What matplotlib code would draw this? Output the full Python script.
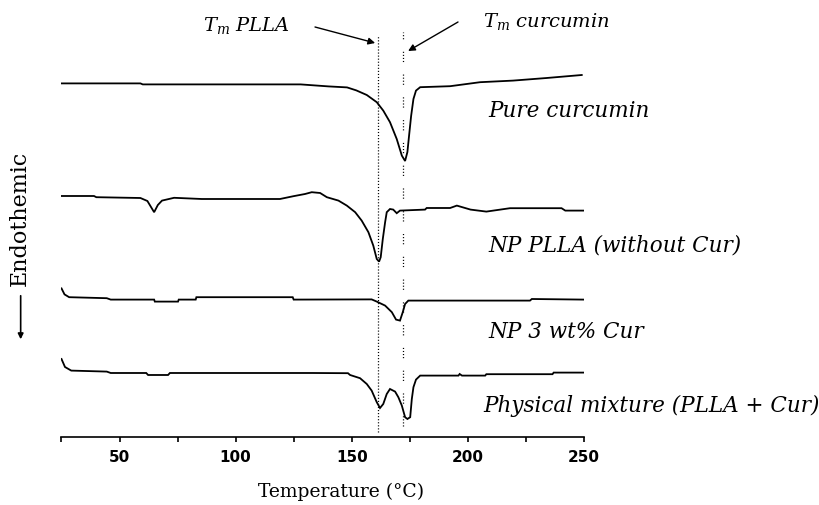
import numpy as np
import matplotlib
matplotlib.use("Agg")
import matplotlib.pyplot as plt

# 数据（温度 °C，热流 a.u.，从图上读取）
T_cur = [25, 59, 60, 128, 140, 148, 152, 156.5, 160.8, 163.6, 166.5, 169.4, 171.6, 173.0,
         174.0, 174.7, 175.6, 176.6, 177.7, 179.5, 192.4, 205.3, 219.5, 234, 249.1]
Q_cur = [17.68, 17.68, 17.63, 17.63, 17.53, 17.48, 17.33, 17.10, 16.74, 16.32, 15.74, 14.90, 14.07, 13.80,
         14.25, 15.05, 16.05, 16.90, 17.32, 17.49, 17.54, 17.74, 17.82, 17.95, 18.10]

T_np = [25, 39, 40, 59, 62, 64.9, 66.5, 68.3, 73.5, 85.4, 105.8, 119.1, 124.9, 129.9, 132.8, 136.4,
        139.3, 144.3, 147.9, 151.5, 154.3, 157.2, 159.3, 160.8, 161.8, 162.5, 163.4, 164.4, 165.1,
        166.5, 167.9, 169.4, 170.8, 181.6, 182.3, 192.4, 195.3, 201.2, 208, 218.2, 240.4, 242, 249.8]
Q_np = [12.05, 12.05, 11.99, 11.95, 11.80, 11.24, 11.60, 11.82, 11.96, 11.90, 11.90, 11.90, 12.04, 12.15,
        12.24, 12.20, 11.99, 11.82, 11.57, 11.24, 10.82, 10.24, 9.57, 8.90, 8.77, 8.99, 9.90, 10.74, 11.24,
        11.40, 11.37, 11.19, 11.32, 11.37, 11.45, 11.45, 11.57, 11.37, 11.27, 11.44, 11.44, 11.32, 11.32]

T_np3 = [25, 26.3, 28.3, 44.5, 46.2, 64.9, 65.2, 75.2, 75.5, 82.8, 83.1, 124.6, 125, 158.6, 160.8,
         164.4, 167.3, 169.1, 170.8, 172, 173, 174.4, 226.8, 227.6, 249.8]
Q_np3 = [7.43, 7.13, 6.99, 6.94, 6.87, 6.87, 6.77, 6.77, 6.87, 6.87, 6.99, 6.99, 6.87, 6.88, 6.77,
         6.57, 6.24, 5.87, 5.82, 6.24, 6.65, 6.82, 6.82, 6.90, 6.87]

T_mix = [25, 26.5, 29.2, 44.5, 46.2, 61.5, 62.3, 70.9, 71.7, 133.1, 148.4, 149.3, 153.6, 156.5, 158.6,
         160.8, 162.2, 163.6, 165.1, 166.5, 168.7, 170.1, 171.6, 173, 174, 175.2, 175.9, 176.6, 177.7,
         179.5, 196, 196.5, 197.5, 207.5, 208, 236.5, 237, 249.8]
Q_mix = [3.90, 3.50, 3.32, 3.27, 3.20, 3.20, 3.10, 3.10, 3.20, 3.20, 3.19, 3.10, 2.94, 2.65, 2.32,
         1.74, 1.45, 1.65, 2.15, 2.40, 2.27, 1.99, 1.57, 0.99, 0.90, 0.99, 1.90, 2.49, 2.87,
         3.07, 3.07, 3.15, 3.07, 3.07, 3.14, 3.14, 3.22, 3.22]

names = ["Pure curcumin", "NP PLLA (without Cur)", "NP 3 wt% Cur", "Physical mixture (PLLA + Cur)"]
Tm_plla = 161.5
Tm_cur = 172.3

plt.rcParams['mathtext.fontset'] = 'dejavuserif'
plt.rcParams['lines.scale_dashes'] = False

fig = plt.figure(figsize=(8.2, 5.06), dpi=100)
ax = fig.add_axes([0.075, 0.1344, 0.637, 0.8656])

for T, Q in [(T_cur, Q_cur), (T_np, Q_np), (T_np3, Q_np3), (T_mix, Q_mix)]:
    ax.plot(T, Q, color="black", lw=1.3, solid_joinstyle="miter")

# 熔点虚线
ax.plot([Tm_plla, Tm_plla], [0.25, 20.05], color="black", lw=0.9, ls=(0, (0.8, 1.4)))
ax.plot([Tm_cur, Tm_cur], [0.57, 20.25], color="black", lw=0.9,
        ls=(0, (0.8, 1.4, 0.8, 1.4, 0.8, 1.4, 0.8, 9)))

# 箭头和标注
arrow = dict(arrowstyle="-|>", color="black", lw=1.0, mutation_scale=10, shrinkA=0, shrinkB=0)
ax.annotate("", xy=(160.1, 19.7), xytext=(134.2, 20.5), arrowprops=arrow)
ax.annotate("", xy=(174.3, 19.3), xytext=(195.8, 20.75), arrowprops=arrow)
ax.text(86, 20.35, r"$T_m$ PLLA", fontsize=14, family="DejaVu Serif", style="italic", va="baseline")
ax.text(206.6, 20.55, r"$T_m$ curcumin", fontsize=14, family="DejaVu Serif", style="italic", va="baseline")

label_x = [208.8, 208.8, 208.8, 206.6]
label_y = [16.05, 9.3, 5.0, 1.3]
for name, lx, ly in zip(names, label_x, label_y):
    ax.text(lx, ly, name, fontsize=15.5, family="DejaVu Serif", style="italic", va="baseline", clip_on=False)

ax.set_xlim(25, 250)
ax.set_ylim(0, 21.9)
ax.set_xticks([50, 100, 150, 200, 250])
ax.set_xticks(np.arange(25, 251, 25), minor=True)
ax.tick_params(axis="x", which="both", direction="out", length=3.6, width=1.2, pad=5)
ax.tick_params(axis="x", labelsize=11)
for lab in ax.get_xticklabels():
    lab.set_fontweight("bold")
ax.set_yticks([])
for s in ["left", "top", "right"]:
    ax.spines[s].set_visible(False)
ax.spines["bottom"].set_linewidth(1.2)
ax.patch.set_alpha(0)

fig.text(341 / 820, 0.0277, "Temperature (°C)", fontsize=13.5, family="DejaVu Serif", ha="center", va="center")
fig.text(0.0245, 0.568, "Endothemic", fontsize=16, family="DejaVu Serif", rotation=90, ha="center", va="center")
fig.add_artist(matplotlib.patches.FancyArrowPatch((0.0252, 0.419), (0.0252, 0.322), transform=fig.transFigure,
                                                  arrowstyle="-|>", mutation_scale=8, color="black", lw=1.2))

plt.savefig("out.png", dpi=100)
